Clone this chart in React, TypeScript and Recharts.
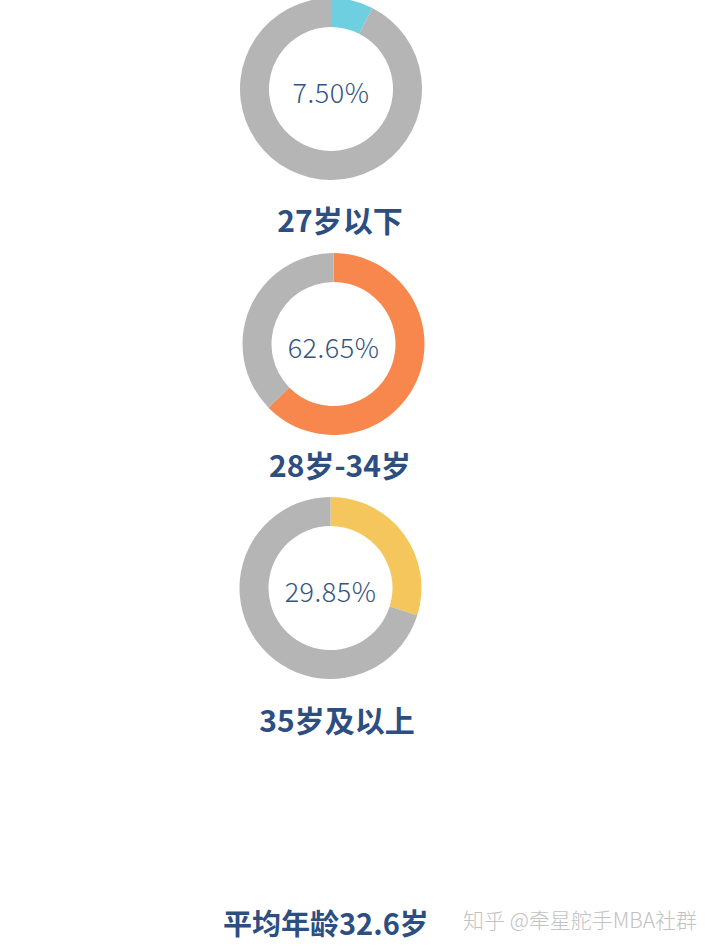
import { PieChart, Pie, Cell } from "recharts"

const groups = ["27岁以下", "28岁-34岁", "35岁及以上"]
const shares = [7.5, 62.65, 29.85]
const shareLabels = ["7.50%", "62.65%", "29.85%"]
const colors = ["#6dcfdf", "#f7874d", "#f4c65b"]
const restColor = "#b5b5b5"
const averageText = "平均年龄32.6岁"
const watermark = "知乎 @牵星舵手MBA社群"

const centers = [
  { x: 331, y: 89, lx: 340, ly: 219 },
  { x: 333.5, y: 344, lx: 340, ly: 464 },
  { x: 330.5, y: 588, lx: 337, ly: 719 },
]

const labelColor = "#2c4e80"

export default function App() {
  return (
    <div style={{ position: "absolute", left: 0, top: 0, width: 720, height: 947, background: "#fff", overflow: "hidden", fontFamily: "'Noto Sans CJK SC', 'Noto Sans', sans-serif" }}>
      <PieChart width={720} height={947} margin={{ top: 0, right: 0, bottom: 0, left: 0 }} style={{ position: "absolute", left: 0, top: 0 }}>
        {groups.map((g, i) => (
          <Pie
            key={g}
            data={[
              { name: g, value: shares[i] },
              { name: "其他", value: 100 - shares[i] },
            ]}
            dataKey="value"
            cx={centers[i].x}
            cy={centers[i].y}
            innerRadius={62}
            outerRadius={91}
            startAngle={90}
            endAngle={-270}
            stroke="none"
            isAnimationActive={false}
          >
            <Cell fill={colors[i]} />
            <Cell fill={restColor} />
          </Pie>
        ))}
      </PieChart>
      {groups.map((g, i) => (
        <div
          key={"c" + g}
          style={{
            position: "absolute",
            left: centers[i].x - 70,
            width: 140,
            top: centers[i].y - 20 + 3,
            height: 40,
            lineHeight: "40px",
            textAlign: "center",
            fontSize: 27,
            fontWeight: 300,
            letterSpacing: 0.5,
            color: "#34557f",
          }}
        >
          {shareLabels[i]}
        </div>
      ))}
      {groups.map((g, i) => (
        <div
          key={g}
          style={{
            position: "absolute",
            left: centers[i].lx - 150,
            width: 300,
            top: centers[i].ly - 20,
            height: 40,
            lineHeight: "40px",
            textAlign: "center",
            fontSize: 30,
            fontWeight: 700,
            color: labelColor,
          }}
        >
          {g}
        </div>
      ))}
      <div style={{ position: "absolute", left: 223, top: 902, height: 40, lineHeight: "40px", fontSize: 29, fontWeight: 700, color: labelColor, whiteSpace: "nowrap" }}>
        {averageText}
      </div>
      <div style={{ position: "absolute", left: 463, top: 901, height: 36, lineHeight: "36px", fontSize: 21, fontWeight: 300, color: "#c2c2c2", whiteSpace: "nowrap" }}>
        {watermark}
      </div>
    </div>
  )
}
